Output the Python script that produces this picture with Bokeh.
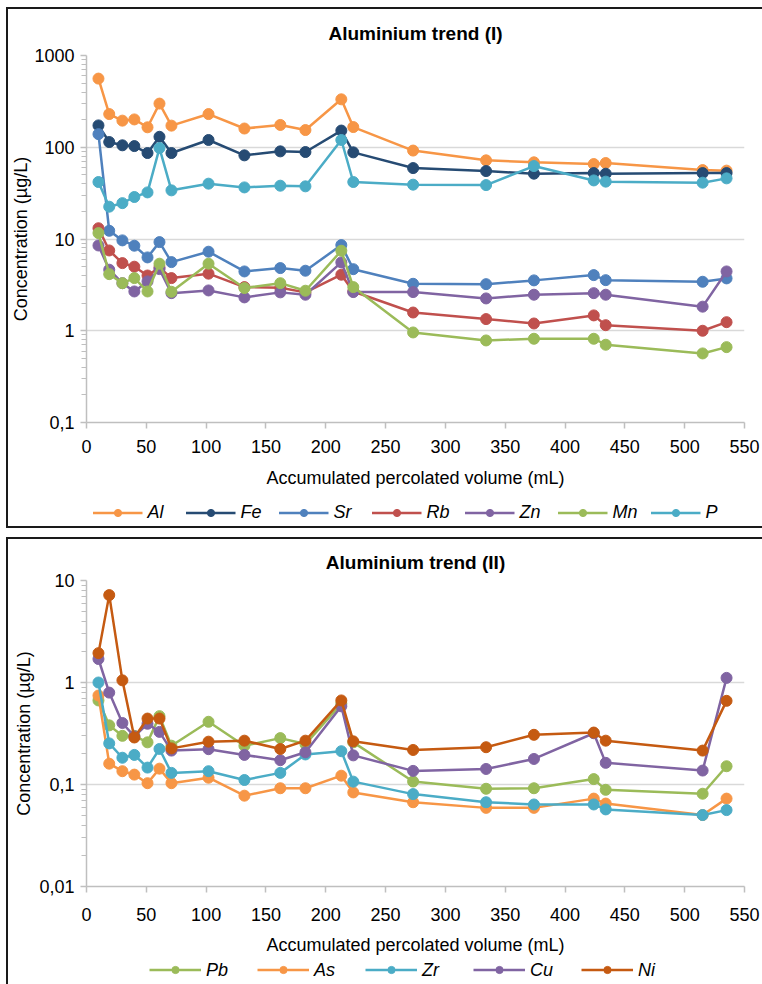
from bokeh.plotting import figure
from bokeh.models import FixedTicker, Legend, LegendItem
from bokeh.layouts import column
from bokeh.embed import file_html
from bokeh.resources import INLINE

# ---------------- data ----------------
volume = [10, 19, 30, 40, 51, 61, 71, 102, 132, 162, 183, 213, 223, 273, 334, 374, 424, 434, 515, 535]

# Trend (I)
names_1 = ["Al", "Fe", "Sr", "Rb", "Zn", "Mn", "P"]
al = [560, 230, 195, 201, 165, 299, 172, 230, 160, 175, 154, 333, 166, 92, 72, 68.5, 65.6, 67.3, 56.4, 55.6]
fe = [173, 114, 105, 103, 86.5, 130, 86.5, 120, 81.6, 90.2, 88.7, 152, 88, 59.3, 55, 51.5, 52.3, 51.5, 52.3, 52.3]
sr = [139, 12.3, 9.66, 8.45, 6.3, 9.25, 5.6, 7.27, 4.43, 4.82, 4.51, 8.58, 4.69, 3.25, 3.22, 3.54, 4.04, 3.56, 3.42, 3.72]
rb = [13.1, 7.5, 5.46, 4.99, 4.0, 4.9, 3.75, 4.19, 2.99, 2.94, 2.62, 4.08, 2.68, 1.58, 1.34, 1.20, 1.47, 1.15, 1.0, 1.24]
zn = [8.5, 4.63, 3.30, 2.68, 3.45, 4.7, 2.57, 2.75, 2.31, 2.62, 2.47, 5.56, 2.64, 2.64, 2.25, 2.47, 2.57, 2.47, 1.83, 4.43]
mn = [11.6, 4.14, 3.30, 3.75, 2.68, 5.38, 2.66, 5.38, 2.92, 3.30, 2.73, 7.45, 2.99, 0.958, 0.784, 0.818, 0.818, 0.704, 0.566, 0.663]
p_ = [41.8, 22.5, 24.6, 28.7, 32.2, 98, 33.9, 40.1, 36.5, 38.1, 37.5, 120, 41.8, 39.1, 38.7, 62.4, 43.5, 42.2, 41.1, 45.8]
colors_1 = ["#F79646", "#264B73", "#4F81BD", "#C0504D", "#8064A2", "#9BBB59", "#4BACC6"]

# Trend (II)
names_2 = ["Pb", "As", "Zr", "Cu", "Ni"]
pb = [0.667, 0.38, 0.30, 0.30, 0.259, 0.468, 0.24, 0.412, 0.24, 0.285, 0.249, 0.62, 0.259, 0.107, 0.0908, 0.0919, 0.113, 0.0887, 0.0812, 0.151]
as_ = [0.745, 0.160, 0.135, 0.125, 0.103, 0.143, 0.103, 0.1165, 0.0777, 0.0919, 0.0919, 0.122, 0.0836, 0.067, 0.059, 0.059, 0.0727, 0.065, 0.0502, 0.0727]
zr = [1.0, 0.253, 0.183, 0.195, 0.1465, 0.223, 0.130, 0.135, 0.1107, 0.130, 0.197, 0.212, 0.1067, 0.0805, 0.067, 0.0637, 0.0637, 0.057, 0.0502, 0.0561]
cu = [1.70, 0.796, 0.401, 0.296, 0.394, 0.328, 0.215, 0.222, 0.195, 0.173, 0.207, 0.584, 0.193, 0.136, 0.142, 0.178, 0.318, 0.163, 0.137, 1.11]
ni = [1.94, 7.19, 1.05, 0.289, 0.443, 0.443, 0.226, 0.263, 0.269, 0.223, 0.269, 0.667, 0.265, 0.218, 0.232, 0.307, 0.323, 0.269, 0.215, 0.661]
colors_2 = ["#9BBB59", "#F79646", "#4BACC6", "#8064A2", "#C55A11"]

x_ticks = [0, 50, 100, 150, 200, 250, 300, 350, 400, 450, 500, 550]
y_ticks_1 = [0.1, 1, 10, 100, 1000]
y_labels_1 = ["0,1", "1", "10", "100", "1000"]
y_ticks_2 = [0.01, 0.1, 1, 10]
y_labels_2 = ["0,01", "0,1", "1", "10"]

titles = ["Aluminium trend (I)", "Aluminium trend (II)"]
x_title = "Accumulated percolated volume (mL)"
y_title = "Concentration (µg/L)"

FONT = "Liberation Sans"
AXIS_GRAY = "#BFBFBF"
GRID_GRAY = "#D9D9D9"
BORDER = "2px solid #1a1a1a"
LEFT = 76   # the column aligns all frames, so every figure uses the same left border
RIGHT = 20


def make_fig(title, series, colors, yticks, ylabels, height, mb_top, mb_bottom,
             title_standoff, x_std, y_std):
    p = figure(width=756, height=height, y_axis_type="log",
               x_range=(0, 550), y_range=(yticks[0], yticks[-1]),
               output_backend="svg", toolbar_location=None,
               min_border_left=LEFT, min_border_right=RIGHT,
               min_border_top=mb_top, min_border_bottom=mb_bottom,
               title=title)
    p.title.text_font = FONT
    p.title.text_font_size = "19px"
    p.title.text_font_style = "bold"
    p.title.text_color = "black"
    p.title.align = "center"
    p.title.standoff = title_standoff

    minor = []
    for t in yticks[:-1]:
        minor += [t * k for k in range(2, 10)]
    p.yaxis.ticker = FixedTicker(ticks=yticks, minor_ticks=minor)
    p.ygrid.ticker = FixedTicker(ticks=yticks)
    p.yaxis.major_label_overrides = {t: l for t, l in zip(yticks, ylabels)}
    p.xaxis.ticker = FixedTicker(ticks=x_ticks)
    p.xgrid.visible = False
    p.ygrid.grid_line_color = GRID_GRAY
    p.ygrid.grid_line_width = 1.5
    p.outline_line_color = None

    for ax in (p.xaxis[0], p.yaxis[0]):
        ax.axis_line_color = AXIS_GRAY
        ax.axis_line_width = 1.5
        ax.major_tick_line_color = AXIS_GRAY
        ax.major_tick_line_width = 1.5
        ax.major_tick_in = 0
        ax.major_tick_out = 6
        ax.major_label_text_font = FONT
        ax.major_label_text_font_size = "18px"
        ax.major_label_text_color = "black"
        ax.axis_label_text_font = FONT
        ax.axis_label_text_font_size = "18px"
        ax.axis_label_text_font_style = "normal"
        ax.axis_label_text_color = "black"
    p.xaxis.minor_tick_line_color = None
    p.yaxis.minor_tick_line_color = AXIS_GRAY
    p.yaxis.minor_tick_line_width = 1.2
    p.yaxis.minor_tick_in = 0
    p.yaxis.minor_tick_out = 5
    p.xaxis.axis_label = x_title
    p.yaxis.axis_label = y_title
    p.xaxis.major_label_standoff = x_std[0]
    p.xaxis.axis_label_standoff = x_std[1]
    p.yaxis.major_label_standoff = y_std[0]
    p.yaxis.axis_label_standoff = y_std[1]

    for ys, c in zip(series, colors):
        p.line(volume, ys, line_color=c, line_width=2.5)
        p.scatter(volume, ys, size=11, fill_color=c, line_color=c)
    return p


def make_legend(series, names, colors, height, glyph_width, label_width, spacing):
    # legend strip; its renderers carry the series but sit outside the visible range
    lf = figure(width=756, height=height, output_backend="svg",
                toolbar_location=None, x_axis_location=None, y_axis_location=None,
                min_border_left=LEFT, min_border_right=RIGHT,
                min_border_top=0, min_border_bottom=0,
                x_range=(0, 550), y_range=(1e6, 2e6))
    lf.grid.visible = False
    lf.outline_line_color = None
    items = []
    for name, ys, c in zip(names, series, colors):
        lr = lf.line(volume, ys, line_color=c, line_width=2.5)
        sc = lf.scatter(volume, ys, size=11, fill_color=c, line_color=c)
        items.append(LegendItem(label=name, renderers=[lr, sc]))
    leg = Legend(items=items, orientation="horizontal", location="center",
                 label_text_font=FONT, label_text_font_size="18px",
                 label_text_font_style="italic", label_text_color="black",
                 glyph_width=glyph_width, glyph_height=18, label_standoff=5,
                 label_width=label_width, spacing=spacing, padding=0, margin=0,
                 border_line_color=None, background_fill_alpha=0)
    lf.add_layout(leg)
    return lf


series_1 = [al, fe, sr, rb, zn, mn, p_]
series_2 = [pb, as_, zr, cu, ni]

p1 = make_fig(titles[0], series_1, colors_1, y_ticks_1, y_labels_1,
              489, 44, 76, 23, (11, 12), (6, 0))
l1 = make_legend(series_1, names_1, colors_1, 32, 50, 32, 6)
p2 = make_fig(titles[1], series_2, colors_2, y_ticks_2, y_labels_2,
              418, 41, 63, 15, (15, 11), (6, 2))
l2 = make_legend(series_2, names_2, colors_2, 29, 52, 43, 8)

p1.margin = (7, 0, 0, 6)
l1.margin = (0, 0, 0, 6)
p2.margin = (9, 0, 0, 6)
l2.margin = (0, 0, 0, 6)
p1.styles = {"border-top": BORDER, "border-left": BORDER}
l1.styles = {"border-left": BORDER, "border-bottom": BORDER}
p2.styles = {"border-top": BORDER, "border-left": BORDER}
l2.styles = {"border-left": BORDER}

layout = column(p1, l1, p2, l2, spacing=0)
open("out.html", "w").write(file_html(layout, INLINE))
